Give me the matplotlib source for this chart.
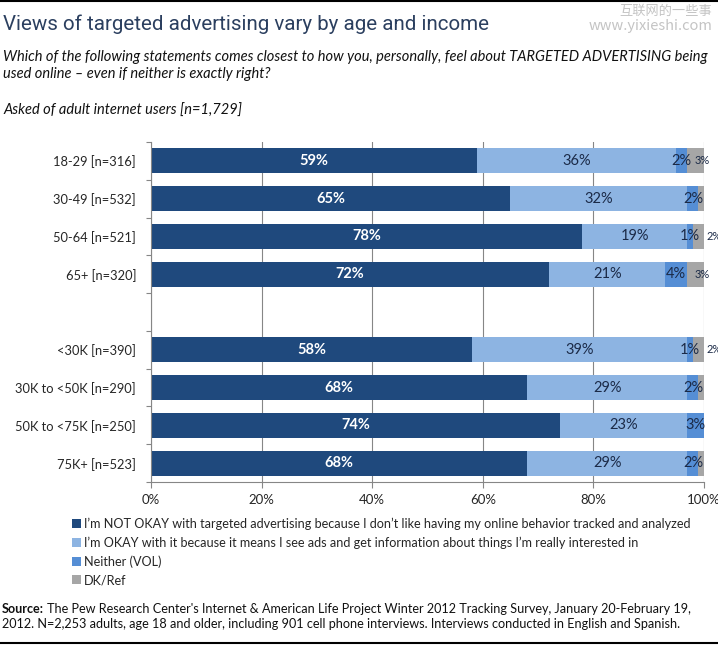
import numpy as np
import matplotlib
matplotlib.use("Agg")
import matplotlib.pyplot as plt
from matplotlib import font_manager


categories = ["18-29 [n=316]", "30-49 [n=532]", "50-64 [n=521]", "65+ [n=320]",
              "<30K [n=390]", "30K to <50K [n=290]", "50K to <75K [n=250]", "75K+ [n=523]"]
not_okay = [59, 65, 78, 72, 58, 68, 74, 68]
okay = [36, 32, 19, 21, 39, 29, 23, 29]
neither = [2, 2, 1, 4, 1, 2, 3, 2]
dk_ref = [3, 1, 2, 3, 2, 1, 0, 1]

series_names = [
    "I\u2019m NOT OKAY with targeted advertising because I don\u2019t like having my online behavior tracked and analyzed",
    "I\u2019m OKAY with it because it means I see ads and get information about things I\u2019m really interested in",
    "Neither (VOL)",
    "DK/Ref",
]
xticks = [0, 20, 40, 60, 80, 100]

W, H = 718, 647
names = {f.name for f in font_manager.fontManager.ttflist}


def pick(*fams):
    for f in fams:
        if f in names:
            return f
    return "DejaVu Sans"


body = pick("Lato", "Open Sans")
head = pick("Roboto", "Lato")
plt.rcParams["font.family"] = [body, "DejaVu Sans"]

dark = "#1F497D"
light = "#8DB4E2"
mid = "#558ED5"
grey = "#A6A6A6"
txt = "#1B2A47"
axis_col = "#868686"

fig = plt.figure(figsize=(W / 100, H / 100), dpi=100)


def fx(px):
    return px / W


def fy(py):
    return 1 - py / H


ax = fig.add_axes([fx(151), fy(482), fx(704) - fx(151), fy(142) - fy(482)])

# gap slot between age and income groups
ypos = np.array([0, 1, 2, 3, 5, 6, 7, 8])
h = 0.66
left = np.zeros(len(categories))
bars = []
for vals, col in zip([not_okay, okay, neither, dk_ref], [dark, light, mid, grey]):
    b = ax.barh(ypos, vals, left=left, height=h, color=col, zorder=2)
    bars.append(b)
    left = left + np.array(vals)

ax.set_xlim(0, 100)
ax.set_ylim(8.5, -0.5)

for i, y in enumerate(ypos):
    a, b, c, d = not_okay[i], okay[i], neither[i], dk_ref[i]
    ax.text(a / 2, y, f"{a}%", ha="center", va="center", color="white",
            fontsize=10.5, fontweight="bold", zorder=3)
    ax.text(a + b / 2, y, f"{b}%", ha="center", va="center", color=txt,
            fontsize=10.5, zorder=3)
    ax.text(a + b + c / 2, y, f"{c}%", ha="center", va="center", color=txt,
            fontsize=10.5, zorder=3)
    if d >= 3:
        ax.text(a + b + c + 1.3, y, f"{d}%", ha="left", va="center", color=txt,
                fontsize=8, zorder=3, clip_on=False)
    elif d == 2:
        ax.text(100.4, y, f"{d}%", ha="left", va="center", color=txt,
                fontsize=8, zorder=3, clip_on=False)

ax.set_yticks(ypos)
ax.set_yticklabels(categories, fontsize=9.3, color="#262626")
ax.tick_params(axis="y", which="major", length=0, pad=10.8)
ax.set_yticks(np.arange(-0.5, 9, 1), minor=True)
ax.tick_params(axis="y", which="minor", length=3.6, color=axis_col, width=0.8)

ax.set_xticks(xticks)
ax.set_xticklabels([f"{t}%" for t in xticks], fontsize=9.5, color="#262626")
ax.tick_params(axis="x", length=4.3, color=axis_col, width=0.8, pad=4.5)

ax.grid(axis="x", color=axis_col, linewidth=0.8, zorder=0)
ax.set_axisbelow(True)
for s in ["top", "right"]:
    ax.spines[s].set_visible(False)
for s in ["left", "bottom"]:
    ax.spines[s].set_color(axis_col)
    ax.spines[s].set_linewidth(0.8)

leg = fig.legend([b[0] for b in bars], series_names, loc="upper left",
                 bbox_to_anchor=(fx(72), fy(518)), frameon=False, fontsize=9.1,
                 handlelength=0.72, handleheight=0.72, handletextpad=0.25,
                 labelspacing=0.5, borderaxespad=0, borderpad=0)
for t in leg.get_texts():
    t.set_color("#262626")

# header
fig.text(fx(3), fy(24), "Views of targeted advertising vary by age and income",
         family=[head, "DejaVu Sans"], fontsize=14.8, color="#2B3F5F", va="center")
fig.text(fx(3), fy(57), "Which of the following statements comes closest to how you, personally, "
         "feel about TARGETED ADVERTISING being", fontsize=10.5, style="italic",
         va="center", color="#111111")
fig.text(fx(3), fy(74), "used online \u2013 even if neither is exactly right?", fontsize=10.5,
         style="italic", va="center", color="#111111")
fig.text(fx(3), fy(111), "Asked of adult internet users [n=1,729]", fontsize=10.5,
         style="italic", va="center", color="#111111")

# watermark
fig.text(fx(712), fy(11), "互联网的一些事", family=["Noto Sans CJK SC", "DejaVu Sans"],
         fontsize=9.5, fontweight="light", color="#C4C4C4", ha="right", va="center")
fig.text(fx(712), fy(26), "www.yixieshi.com", family=["Noto Sans CJK SC", "DejaVu Sans"],
         fontsize=10.5, fontweight="light", color="#C4C4C4", ha="right", va="center")

# source
src = fig.text(fx(2), fy(609), "Source:", fontsize=9.1, fontweight="bold",
               va="center", color="#111111")
r = fig.canvas.get_renderer()
bb = src.get_window_extent(renderer=r)
fig.text(bb.x1 / W + fx(3), fy(609), "The Pew Research Center's Internet & American Life Project "
         "Winter 2012 Tracking Survey, January 20-February 19,", fontsize=9.1,
         va="center", color="#111111")
fig.text(fx(2), fy(624), "2012. N=2,253 adults, age 18 and older, including 901 cell phone interviews. "
         "Interviews conducted in English and Spanish.", fontsize=9.1, va="center",
         color="#111111")

# border lines at top and bottom
fig.add_artist(plt.Line2D([0, 1], [fy(0.5), fy(0.5)], color="black", linewidth=1.5))
fig.add_artist(plt.Line2D([0, 1], [fy(643), fy(643)], color="black", linewidth=1.5))

fig.savefig("out.png", dpi=100)
